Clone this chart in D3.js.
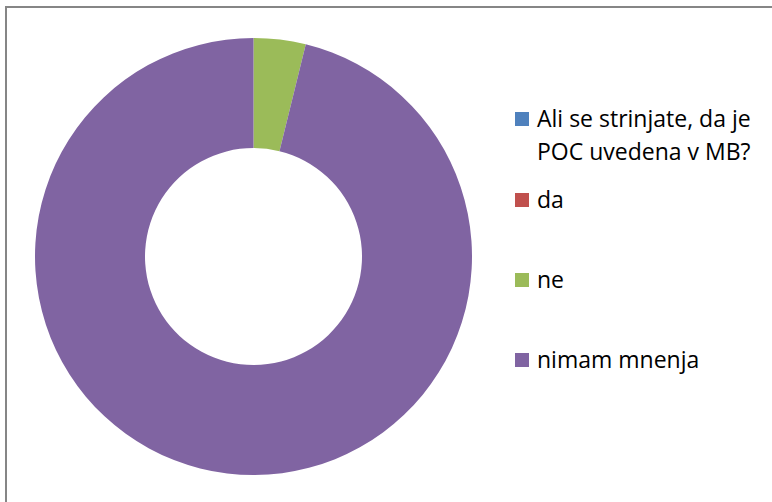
<!DOCTYPE html>
<html>
<head>
<meta charset="utf-8">
<script src="https://cdn.jsdelivr.net/npm/d3@7"></script>
<style>
  html, body { margin: 0; padding: 0; background: #fff; }
  svg { display: block; }
  .legend text { font-family: "Open Sans", "Noto Sans", sans-serif; font-size: 23px; fill: #000; }
</style>
</head>
<body>
<div id="chart"></div>
<script>
// legend entries (first one is the series title, shown by Excel as a legend entry)
const labels = ["Ali se strinjate, da je POC uvedena v MB?", "da", "ne", "nimam mnenja"];
const values = [0, 0, 1, 25];
const colors = ["#4f81bd", "#c0504d", "#9bbb59", "#8064a2"];

const width = 772, height = 502;
const cx = 253.5, cy = 256.5;
const outerR = 218.5, innerR = 108.5;

const svg = d3.select("#chart").append("svg")
    .attr("width", width)
    .attr("height", height);

// chart frame (right and bottom edges fall outside the picture)
svg.append("rect")
    .attr("x", 6).attr("y", 7)
    .attr("width", 800).attr("height", 520)
    .attr("fill", "none")
    .attr("stroke", "#868686")
    .attr("stroke-width", 2);

const color = d3.scaleOrdinal().domain(labels).range(colors);

const pie = d3.pie()
    .sort(null)
    .value(d => d.value);

const arc = d3.arc()
    .innerRadius(innerR)
    .outerRadius(outerR);

const data = labels.map((l, i) => ({ label: l, value: values[i] }));

svg.append("g")
    .attr("transform", "translate(" + cx + "," + cy + ")")
    .selectAll("path")
    .data(pie(data))
    .enter().append("path")
    .attr("d", arc)
    .attr("fill", d => color(d.data.label));

/* ------- LEGEND ------- */
const legendRows = [
    { label: labels[0], lines: ["Ali se strinjate, da je", "POC uvedena v MB?"], y: 127 },
    { label: labels[1], lines: ["da"], y: 208 },
    { label: labels[2], lines: ["ne"], y: 288 },
    { label: labels[3], lines: ["nimam mnenja"], y: 368 }
];

const legend = svg.append("g").attr("class", "legend");
const row = legend.selectAll("g")
    .data(legendRows)
    .enter().append("g");

row.append("rect")
    .attr("x", 515)
    .attr("y", d => d.y - 15)
    .attr("width", 14)
    .attr("height", 14)
    .attr("fill", d => color(d.label));

row.append("text")
    .attr("x", 537)
    .attr("y", d => d.y)
    .selectAll("tspan")
    .data(d => d.lines)
    .enter().append("tspan")
    .attr("x", 537)
    .attr("dy", (d, i) => i === 0 ? 0 : 33)
    .text(d => d);
</script>
</body>
</html>
